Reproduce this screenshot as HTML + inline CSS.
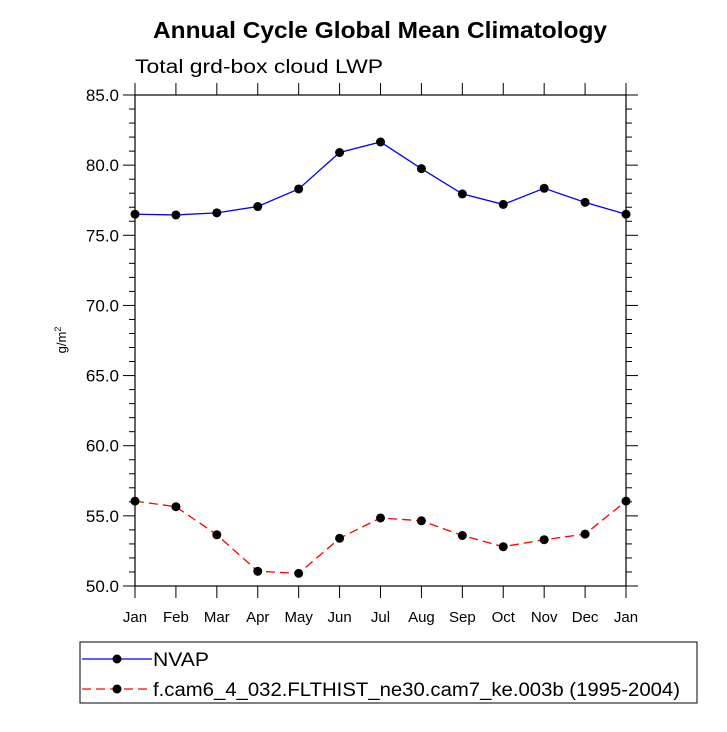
<!DOCTYPE html>
<html><head><meta charset="utf-8"><style>
body{margin:0;background:#fff;font-family:"Liberation Sans",Arial,sans-serif}
</style></head><body>
<svg width="727" height="727" xmlns="http://www.w3.org/2000/svg" font-family="Liberation Sans, Arial, sans-serif">
<text x="153" y="38" font-size="23" font-weight="bold" textLength="454" lengthAdjust="spacingAndGlyphs">Annual Cycle Global Mean Climatology</text>
<text x="135" y="73" font-size="19" textLength="248" lengthAdjust="spacingAndGlyphs">Total grd-box cloud LWP</text>
<text transform="translate(66,340) rotate(-90)" text-anchor="middle" font-size="13">g/m<tspan dy="-5" font-size="9">2</tspan></text>
<g id="axes"></g>
<g id="series"></g>
<rect x="80" y="642" width="617" height="61" fill="none" stroke="#000"/>
<g>
<line x1="82" y1="659" x2="152" y2="659" stroke="#00f" stroke-width="1.3"/>
<circle cx="117" cy="659" r="4.5"/>
<text x="153" y="666" font-size="19" textLength="56" lengthAdjust="spacingAndGlyphs">NVAP</text>
</g>
<g>
<line x1="82" y1="689" x2="152" y2="689" stroke="#f00" stroke-width="1.3" stroke-dasharray="9,5"/>
<circle cx="117" cy="689" r="4.5"/>
<text x="153" y="696" font-size="19" textLength="527" lengthAdjust="spacingAndGlyphs">f.cam6_4_032.FLTHIST_ne30.cam7_ke.003b (1995-2004)</text>
</g>
</svg>
<script>
const months=["Jan","Feb","Mar","Apr","May","Jun","Jul","Aug","Sep","Oct","Nov","Dec","Jan"];
const nvap=[76.5,76.45,76.6,77.05,78.3,80.9,81.65,79.75,77.95,77.2,78.35,77.35,76.5];
const model=[56.05,55.65,53.65,51.05,50.9,53.4,54.85,54.65,53.6,52.8,53.3,53.7,56.05];
const yTicks=[50,55,60,65,70,75,80,85];
const NS="http://www.w3.org/2000/svg";
const L=135,R=626,T=95,B=586,ymin=50,ymax=85;
const xs=i=>L+(R-L)*i/(months.length-1);
const ys=v=>B-(B-T)*(v-ymin)/(ymax-ymin);
function mk(tag,attrs,parent){const e=document.createElementNS(NS,tag);for(const k in attrs)e.setAttribute(k,attrs[k]);parent.appendChild(e);return e;}
const ax=document.getElementById("axes");
const frame=mk("rect",{x:L,y:T,width:R-L,height:B-T,fill:"none",stroke:"#000","stroke-width":1.2},ax);


for(let v=ymin;v<=ymax;v++){
  const y=ys(v),len=(v%5===0)?12:6;
  mk("line",{x1:L,y1:y,x2:L-len,y2:y,stroke:"#000"},ax);
  mk("line",{x1:R,y1:y,x2:R+len,y2:y,stroke:"#000"},ax);
}
yTicks.forEach(v=>{
  const t=mk("text",{x:L-16,y:ys(v)+6,"text-anchor":"end","font-size":17},ax);
  t.textContent=v.toFixed(1);
  
  
});
months.forEach((m,i)=>{
  const x=xs(i);
  mk("line",{x1:x,y1:B,x2:x,y2:B+12,stroke:"#000"},ax);
  mk("line",{x1:x,y1:T,x2:x,y2:T-12,stroke:"#000"},ax);
  const t=mk("text",{x:x,y:B+36,"text-anchor":"middle","font-size":15},ax);
  t.textContent=m;
  
  
});
const sg=document.getElementById("series");
function draw(data,color,dash,name){
  const pts=data.map((v,i)=>xs(i)+","+ys(v)).join(" ");
  const pl=mk("polyline",{points:pts,fill:"none",stroke:color,"stroke-width":1.3},sg);
  if(dash)pl.setAttribute("stroke-dasharray",dash);
  
  
  data.forEach((v,i)=>{
    const c=mk("circle",{cx:xs(i),cy:ys(v),r:4.5,fill:"#000"},sg);
    
    
  });
}
draw(nvap,"#00f",null,"nvap");
draw(model,"#f00","9,5","model");
</script>
</body></html>
